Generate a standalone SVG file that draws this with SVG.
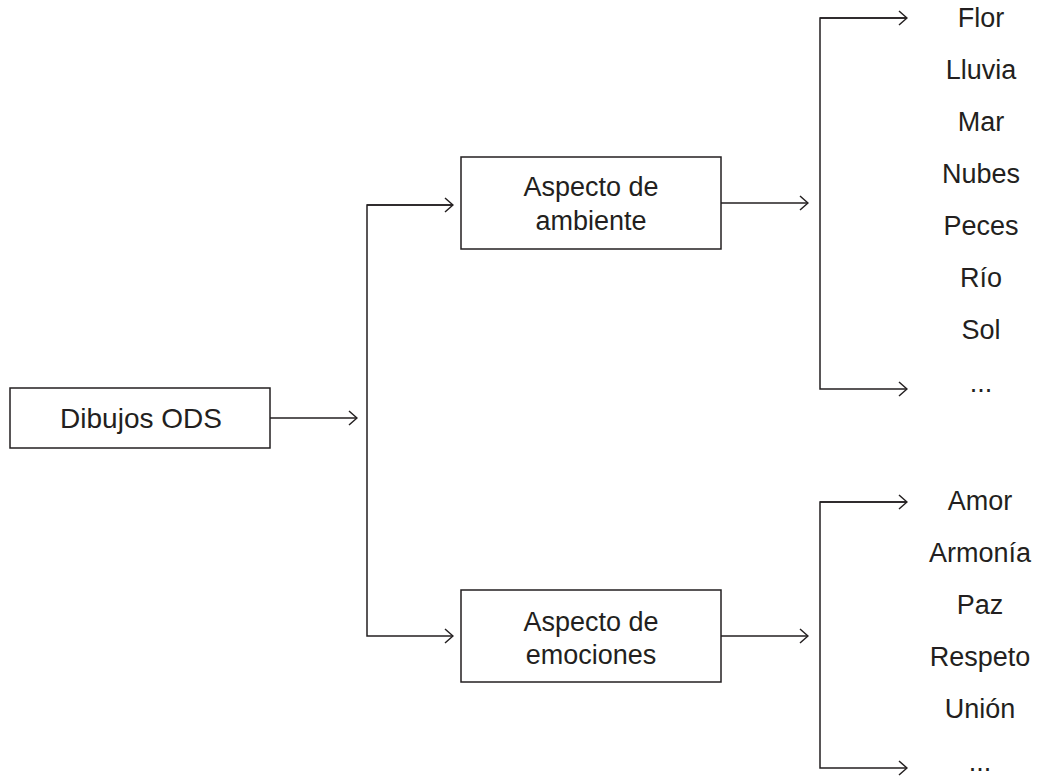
<svg xmlns="http://www.w3.org/2000/svg" width="1037" height="776" viewBox="0 0 1037 776">
<defs>
<style>
text{font-family:"Liberation Sans",Arial,sans-serif;font-size:27px;fill:#231f20;text-anchor:middle}
.box{fill:#fff;stroke:#231f20;stroke-width:1.5}
.ln{fill:none;stroke:#231f20;stroke-width:1.5}
</style>
<marker id="ah" viewBox="0 0 10 16" refX="9" refY="8" markerWidth="10" markerHeight="16" markerUnits="userSpaceOnUse" orient="auto">
<path d="M1,1 L9,8 L1,15" fill="none" stroke="#231f20" stroke-width="1.5"/>
</marker>
</defs>
<rect width="1037" height="776" fill="#fff"/>
<g id="connectors">
<path class="ln" d="M270,418 H357" marker-end="url(#ah)"/>
<path class="ln" d="M453,205 H367 V636 H453" marker-end="url(#ah)"/>
<path class="ln" d="M367,205 H453" marker-end="url(#ah)"/>
<path class="ln" d="M721,203 H808" marker-end="url(#ah)"/>
<path class="ln" d="M721,636 H808" marker-end="url(#ah)"/>
<path class="ln" d="M907,18 H820 V389 H907" marker-end="url(#ah)"/>
<path class="ln" d="M820,18 H907" marker-end="url(#ah)"/>
<path class="ln" d="M907,502 H820 V768 H907" marker-end="url(#ah)"/>
<path class="ln" d="M820,502 H907" marker-end="url(#ah)"/>
</g>
<g id="node-dibujos">
<rect class="box" x="10" y="388" width="260" height="60"/>
<text x="141" y="428" style="font-size:28px">Dibujos ODS</text>
</g>
<g id="node-ambiente">
<rect class="box" x="461" y="157" width="260" height="92"/>
<text x="591" y="196">Aspecto de</text>
<text x="591" y="230">ambiente</text>
</g>
<g id="node-emociones">
<rect class="box" x="461" y="590" width="260" height="92"/>
<text x="591" y="631">Aspecto de</text>
<text x="591" y="664">emociones</text>
</g>
<g id="list-ambiente">
<text x="981" y="27">Flor</text>
<text x="981" y="79">Lluvia</text>
<text x="981" y="131">Mar</text>
<text x="981" y="183">Nubes</text>
<text x="981" y="235">Peces</text>
<text x="981" y="287">Río</text>
<text x="981" y="339">Sol</text>
<text x="981" y="392">...</text>
</g>
<g id="list-emociones">
<text x="980" y="510">Amor</text>
<text x="980" y="562">Armonía</text>
<text x="980" y="614">Paz</text>
<text x="980" y="666">Respeto</text>
<text x="980" y="718">Unión</text>
<text x="980" y="771">...</text>
</g>
</svg>
